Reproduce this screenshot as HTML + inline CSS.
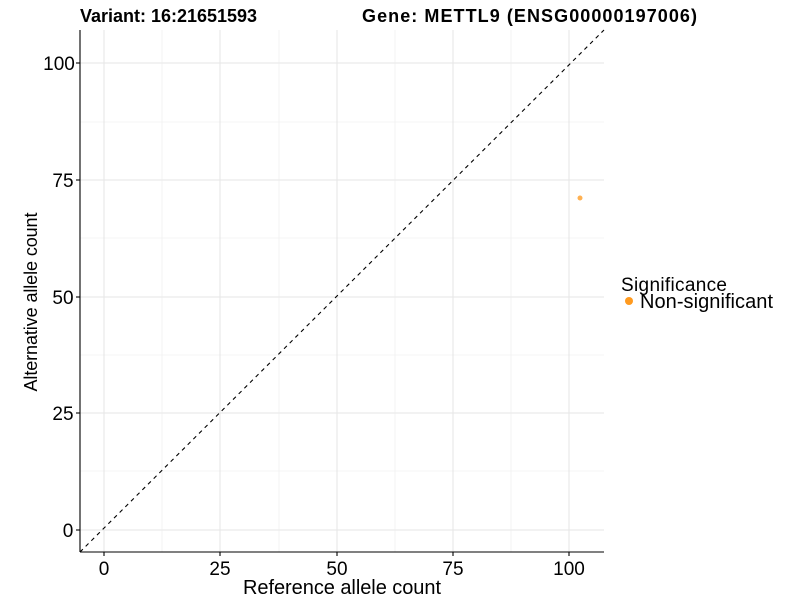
<!DOCTYPE html>
<html><head><style>body{margin:0;background:#fff}</style></head><body>
<svg width="800" height="600" xmlns="http://www.w3.org/2000/svg" font-family="Liberation Sans, sans-serif">
<rect width="800" height="600" fill="#fff"/>
<g stroke="#ebebeb" stroke-width="0.6">
<line x1="162" y1="30" x2="162" y2="552"/><line x1="279" y1="30" x2="279" y2="552"/><line x1="395" y1="30" x2="395" y2="552"/><line x1="511" y1="30" x2="511" y2="552"/>
<line x1="80" y1="122" x2="604" y2="122"/><line x1="80" y1="238" x2="604" y2="238"/><line x1="80" y1="355" x2="604" y2="355"/><line x1="80" y1="471" x2="604" y2="471"/>
</g>
<g stroke="#e6e6e6" stroke-width="1.1">
<line x1="104" y1="30" x2="104" y2="552"/><line x1="220" y1="30" x2="220" y2="552"/><line x1="337" y1="30" x2="337" y2="552"/><line x1="453" y1="30" x2="453" y2="552"/><line x1="569" y1="30" x2="569" y2="552"/>
<line x1="80" y1="63" x2="604" y2="63"/><line x1="80" y1="180" x2="604" y2="180"/><line x1="80" y1="297" x2="604" y2="297"/><line x1="80" y1="413" x2="604" y2="413"/><line x1="80" y1="530" x2="604" y2="530"/>
</g>
<line x1="80" y1="552" x2="604" y2="30" stroke="#000" stroke-width="1.1" stroke-dasharray="4,4"/>
<circle cx="580" cy="198" r="2.5" fill="#ffa83f" opacity="0.9"/>
<g stroke="#000" stroke-width="1.1">
<line x1="80" y1="30" x2="80" y2="552"/><line x1="80" y1="552" x2="604" y2="552"/>
<line x1="76" y1="63" x2="80" y2="63"/><line x1="76" y1="180" x2="80" y2="180"/><line x1="76" y1="297" x2="80" y2="297"/><line x1="76" y1="413" x2="80" y2="413"/><line x1="76" y1="530" x2="80" y2="530"/>
<line x1="104" y1="552" x2="104" y2="556"/><line x1="220" y1="552" x2="220" y2="556"/><line x1="337" y1="552" x2="337" y2="556"/><line x1="453" y1="552" x2="453" y2="556"/><line x1="569" y1="552" x2="569" y2="556"/>
</g>
<g font-size="19" fill="#000" text-anchor="middle">
<text x="59" y="70">100</text><text x="63" y="187">75</text><text x="63" y="304">50</text><text x="63" y="420">25</text><text x="68" y="537">0</text>
</g>
<g font-size="19" fill="#000" text-anchor="middle">
<text x="104" y="575">0</text><text x="220" y="575">25</text><text x="337" y="575">50</text><text x="453" y="575">75</text><text x="569" y="575">100</text>
<text x="342" y="594" textLength="198" font-size="20">Reference allele count</text>
<text transform="translate(37,302) rotate(-90)" textLength="179" font-size="18">Alternative allele count</text>
</g>
<text x="80" y="22" font-size="18" font-weight="bold" textLength="177">Variant: 16:21651593</text>
<text x="362" y="22" font-size="18" font-weight="bold" textLength="335">Gene: METTL9 (ENSG00000197006)</text>
<text x="621" y="291" font-size="19" textLength="106">Significance</text>
<circle cx="629" cy="301" r="4" fill="#ff9a1f"/>
<text x="640" y="308" font-size="20" textLength="133">Non-significant</text>
</svg>
</body></html>
